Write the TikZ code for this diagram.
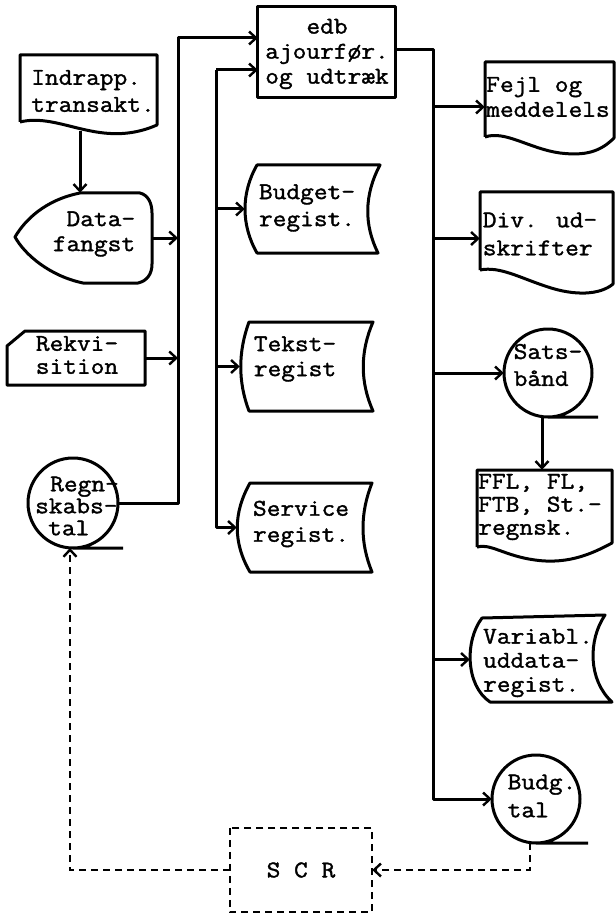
\documentclass[tikz,border=0pt]{standalone}
\usepackage{fontspec}
\newfontfamily\tw{Latin Modern Mono}[FakeStretch=1.11,FakeBold=1.5]
\usetikzlibrary{arrows.meta,calc}
\begin{document}
\begin{tikzpicture}[x=1pt,y=-1pt,
  ln/.style={line width=3pt, line join=round},
  dsh/.style={line width=2pt, dash pattern=on 7pt off 5pt},
  arr/.style={-{Straight Barb[length=7pt,width=13pt,line width=2.4pt]}},
  bb/.style={draw=none, inner sep=0pt, minimum width=#1},
  bb/.default=10,
  txt/.style={inner sep=0pt, font=\tw\fontsize{24}{25}\selectfont},
  tl/.style={txt, align=left},
  tc/.style={txt, align=center},
  tr/.style={txt, align=right}]
\useasboundingbox (0,0) rectangle (615,917);
% ---- shape frames (invisible anchors) ----
\node[bb=137, minimum height=90] (edb) at (326.5,52) {};
\node[bb=137, minimum height=76] (indr) at (88.5,93) {};
\node[bb=137, minimum height=90] (data) at (83.5,238) {};
\node[bb=138, minimum height=54] (rekv) at (76,358) {};
\node[bb=90, circle, minimum size=90] (regn) at (73,503) {};
\node[bb=135, minimum height=88] (budget) at (312.5,209) {};
\node[bb=133, minimum height=89] (tekst) at (306.5,366.5) {};
\node[bb=135, minimum height=89] (service) at (304.5,527.5) {};
\node[bb=130, minimum height=90] (fejl) at (550,107) {};
\node[bb=133, minimum height=93] (div) at (546.5,238.5) {};
\node[bb=88, circle, minimum size=88] (sats) at (548,373) {};
\node[bb=135, minimum height=86] (ffl) at (544.5,513) {};
\node[bb=142, minimum height=85] (var) at (541,659.5) {};
\node[bb=88, circle, minimum size=88] (budg) at (536,799) {};
\node[bb=142, minimum height=84] (scr) at (301,870) {};
% ---- texts ----
\node[tc] (t-edb) at (327,54) {edb\\ajourfør.\\og udtræk};
\node[tl, font=\tw\fontsize{24}{27}\selectfont] (t-indr) at (93,91) {Indrapp.\\transakt.};
\node[tr] (t-data) at (94,234) {Data-\\fangst};
\node[tc, font=\tw\fontsize{24}{23}\selectfont] (t-rekv) at (77,355) {Rekvi-\\sition};
\node[tl, font=\tw\fontsize{24}{22}\selectfont] (t-regn) at (77,506) {\hspace*{15pt}Regn-\\skabs-\\\hspace*{13pt}tal};
\node[tl, font=\tw\fontsize{24}{27}\selectfont] (t-budget) at (307,208) {Budget-\\regist.};
\node[tl] (t-tekst) at (295,359) {Tekst-\\regist};
\node[tl, font=\tw\fontsize{24}{26}\selectfont] (t-service) at (301,524) {Service\\regist.};
\node[tl] (t-fejl) at (548,97) {Fejl og\\meddelels};
\node[tl, font=\tw\fontsize{24}{28}\selectfont] (t-div) at (540,234) {Div. ud-\\skrifter};
\node[tl, font=\tw\fontsize{24}{27}\selectfont] (t-sats) at (548,365) {Sats-\\bånd};
\node[tl, font=\tw\fontsize{24}{23}\selectfont] (t-ffl) at (540,507) {FFL, FL,\\FTB, St.-\\regnsk.};
\node[tl, font=\tw\fontsize{24}{24}\selectfont] (t-var) at (538,663) {Variabl.\\uddata-\\regist.};
\node[tl, font=\tw\fontsize{24}{28}\selectfont] (t-budg) at (542,796) {Budg.\\tal};
\node[tc] (t-scr) at (scr.center) {S C R};
% ---- outlines ----
\draw[ln] (edb.north west) rectangle (edb.south east);
\draw[ln] (20,122) -- (20,55) -- (157,55) -- (157,125)
  .. controls (100,150) and (60,112) .. (20,122);
\draw[ln] (80,193) -- (140,193) .. controls (148,195) and (152,203) .. (152,213) -- (152,264)
  .. controls (152,274) and (147,281) .. (138,283) -- (83,283)
  .. controls (50,276) and (25,255) .. (15,237) .. controls (25,220) and (45,200) .. (80,193) -- cycle;
\draw[ln] (25,331) -- (145,331) -- (145,385) -- (7,385) -- (7,346) -- cycle;
\draw[ln] (regn.center) circle (45) (regn.south) -- ++(50,0);
\draw[ln] (257,165) -- (380,165) .. controls (364,195) and (364,225) .. (378,253)
  -- (257,253) .. controls (241,225) and (241,193) .. (257,165) -- cycle;
\draw[ln] (249,322) -- (373,322) .. controls (360,352) and (360,382) .. (373,411)
  -- (249,411) .. controls (238,382) and (238,352) .. (249,322) -- cycle;
\draw[ln] (250,483) -- (372,483) .. controls (360,513) and (360,543) .. (372,572)
  -- (250,572) .. controls (233,543) and (233,513) .. (250,483) -- cycle;
\draw[ln] (485,137) -- (485,62) -- (614,62) -- (614,138)
  .. controls (600,152) and (585,156) .. (560,153) .. controls (530,149) and (505,130) .. (485,137);
\draw[ln] (480,270) -- (480,192) -- (613,192) -- (613,284)
  .. controls (600,295) and (575,296) .. (548,287) .. controls (520,278) and (500,266) .. (480,270);
\draw[ln] (sats.center) circle (44) (sats.south) -- ++(50,0);
\draw[ln] (477,547) -- (477,470) -- (612,470) -- (612,543)
  .. controls (595,552) and (570,565) .. (535,560) .. controls (505,556) and (490,543) .. (477,547);
\draw[ln] (482,618) -- (605,615) .. controls (588,640) and (588,680) .. (612,702)
  -- (490,702) .. controls (465,685) and (465,640) .. (482,618) -- cycle;
\draw[ln] (budg.center) circle (44) (budg.south) -- ++(52,0);
\draw[dsh] (scr.north west) rectangle (scr.south east);
% ---- connectors ----
\coordinate (l1) at (178,38);
\coordinate (l2) at (216,70);
\coordinate (r1) at (433,50);
\coordinate (btail) at (530,843);
\coordinate (rtail) at (70,548);
\draw[ln,arr] (indr.south -| 80,0) -- (data.north -| 80,0);
\draw[ln,arr] (regn.east) -- (regn.east -| l1) -- (l1) -- (l1 -| edb.west);
\draw[ln,arr] (data.east) -- (data.east -| l1);
\draw[ln,arr] (rekv.east) -- (rekv.east -| l1);
\draw[ln,arr] (l2) -- (l2 -| edb.west);
\draw[ln,arr] (l2) -- (l2 |- service.west) -- (service.west);
\draw[ln,arr] (l2 |- budget.west) -- (budget.west);
\draw[ln,arr] (l2 |- tekst.west) -- (tekst.west);
\draw[ln,arr] (edb.east |- r1) -- (r1) -- (r1 |- budg.west) -- (budg.west);
\draw[ln,arr] (r1 |- fejl.west) -- (fejl.west);
\draw[ln,arr] (r1 |- div.west) -- (div.west);
\draw[ln,arr] (r1 |- sats.west) -- (sats.west);
\draw[ln,arr] (r1 |- var.west) -- (var.west);
\draw[ln,arr] (sats.south -| 542,0) -- (ffl.north -| 542,0);
\draw[dsh,arr] (btail) -- (btail |- scr.east) -- (scr.east);
\draw[dsh,arr] (scr.west) -- (scr.west -| rtail) -- (rtail);
\end{tikzpicture}
\end{document}
